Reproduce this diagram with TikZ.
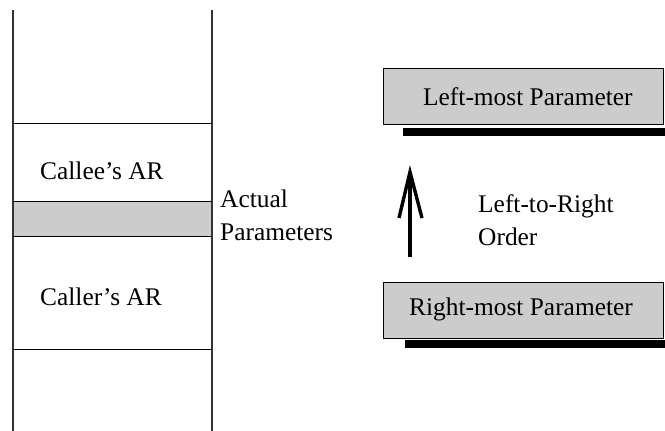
\documentclass[tikz,border=0pt]{standalone}
\usepackage{fontspec}
\setmainfont{Liberation Serif}
\definecolor{paramgray}{gray}{0.8}
\definecolor{stackline}{gray}{0.2}
\begin{document}
\begin{tikzpicture}[x=1pt,y=-1pt,
  txt/.style={inner sep=0pt,anchor=base west,font=\fontsize{25.4}{33}\selectfont},
  stackedge/.style={draw=stackline,line width=1.6pt},
  frame/.style={draw=black,line width=1pt},
  parambox/.style={frame,fill=paramgray},
  shadowbar/.style={fill=black,draw=none},
  bold arrow/.style={draw=black,line width=3.4pt}]
\useasboundingbox (0,0) rectangle (665,431);

% activation record stack
\fill[paramgray] (13,201) rectangle (212,236);
\coordinate (sl) at (13,10);
\coordinate (slb) at (13,431);
\coordinate (sr) at (212,10);
\coordinate (srb) at (212,431);
\draw[stackedge] (sl) -- (slb);
\draw[stackedge] (sr) -- (srb);
\foreach \yy in {123,201,236,349}
  \draw[frame] (13,\yy) -- (212,\yy);

\node[txt] (callee) at (40,179) {Callee’s AR};
\node[txt] (caller) at (40,305) {Caller’s AR};
\node[txt] (actual) at (220,207) {Actual};
\node[txt] (params) at (220,240) {Parameters};

% parameter boxes with drop bars
\fill[shadowbar] (403,128) rectangle (665,136);
\fill[shadowbar] (405,340) rectangle (665,348);
\draw[parambox] (383,68) rectangle (663,124);
\draw[parambox] (383,282) rectangle (663,338);
\node[txt] (leftmost) at (423,105) {Left-most Parameter};
\node[txt] (rightmost) at (409,315) {Right-most Parameter};

% evaluation order arrow: shaft and open barbed head
\coordinate (abot) at (410,257);
\coordinate (atop) at (410,172);
\coordinate (wl) at (399,218);
\coordinate (wr) at (422,218);
\draw[bold arrow] (abot) -- (atop);
\draw[bold arrow,line join=miter,miter limit=20] (wl) -- (atop) -- (wr);
\node[txt] (ltr) at (478,212) {Left-to-Right};
\node[txt] (order) at (478,245) {Order};
\end{tikzpicture}
\end{document}
